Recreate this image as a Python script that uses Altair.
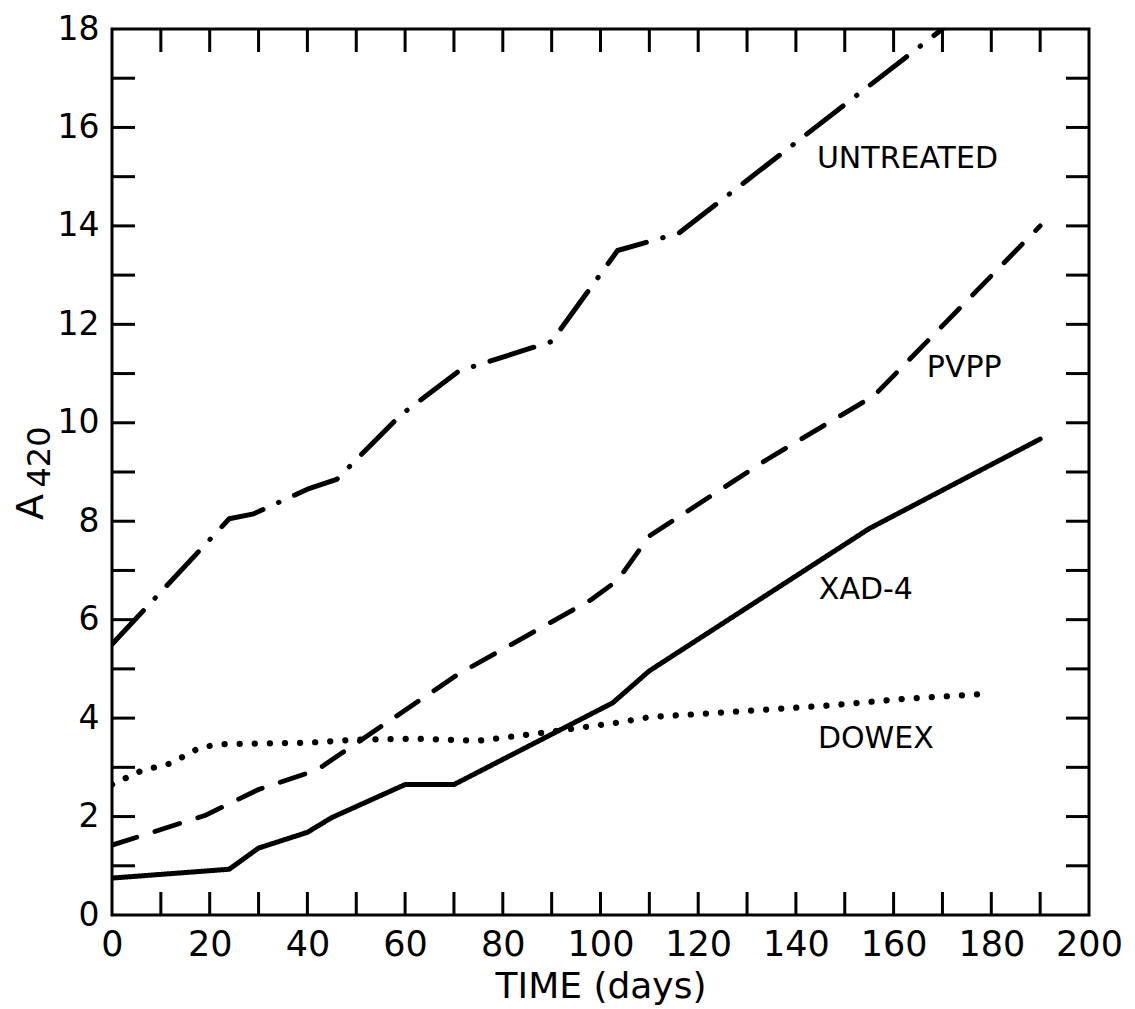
import altair as alt
import pandas as pd

# ---- data ----
untreated_x = [0, 24, 29, 40, 46, 59, 71, 90, 103.5, 116, 170]
untreated_y = [5.5, 8.05, 8.15, 8.65, 8.85, 10.15, 11.05, 11.65, 13.5, 13.85, 18.0]

pvpp_x = [0, 19, 30, 42, 71, 98, 103.5, 110, 134, 156, 190]
pvpp_y = [1.42, 2.02, 2.55, 2.95, 4.9, 6.4, 6.8, 7.7, 9.25, 10.55, 14.0]

xad_x = [0, 24, 30, 40, 45, 60, 70, 102.5, 110, 155, 190]
xad_y = [0.75, 0.93, 1.36, 1.68, 1.98, 2.65, 2.65, 4.31, 4.96, 7.85, 9.67]

dowex_x = [0, 6, 12, 18, 22, 40, 50, 62, 75, 88, 103, 110, 118, 146, 162, 180]
dowex_y = [2.65, 2.93, 3.08, 3.4, 3.47, 3.5, 3.56, 3.58, 3.54, 3.7, 3.9, 4.02, 4.07, 4.25, 4.39, 4.5]

label_text = ["UNTREATED", "PVPP", "XAD-4", "DOWEX"]
label_x = [144.3, 166.8, 144.7, 144.5]
label_y = [15.35, 11.12, 6.61, 3.58]

x_tick_labels = list(range(0, 201, 20))
y_tick_labels = list(range(0, 19, 2))
x_minor = list(range(10, 200, 10))
y_minor = list(range(1, 18, 1))

W, H = 977, 886
FONT = "DejaVu Sans"

xs = alt.Scale(domain=[0, 200], nice=False, zero=False)
ys = alt.Scale(domain=[0, 18], nice=False, zero=False)

def series_df(xv, yv):
    return pd.DataFrame({"t": xv, "a": yv})

def line(df, dash, width):
    return alt.Chart(df).mark_line(
        color="black", strokeWidth=width, strokeDash=dash, strokeCap="round",
        strokeJoin="round", clip=True
    ).encode(
        x=alt.X("t:Q", scale=xs),
        y=alt.Y("a:Q", scale=ys),
    )

# axes (labels only) on a base layer
base = alt.Chart(pd.DataFrame({"t": [0], "a": [0]})).mark_point(opacity=0).encode(
    x=alt.X("t:Q", scale=xs, axis=alt.Axis(
        values=x_tick_labels, ticks=False, domain=False, grid=False,
        labelFont=FONT, labelFontSize=35, labelColor="black", labelPadding=12,
        title="TIME (days)", titleFont=FONT, titleFontSize=36, titleFontWeight="normal",
        titleColor="black", titlePadding=7, labelFlush=False)),
    y=alt.Y("a:Q", scale=ys, axis=alt.Axis(
        values=y_tick_labels, ticks=False, domain=False, grid=False,
        labelFont=FONT, labelFontSize=33, labelColor="black", labelPadding=13,
        title="", labelFlush=False)),
)

TL = 23
xt = pd.DataFrame({"t": x_minor})
yt = pd.DataFrame({"a": y_minor})
tick_style = dict(color="black", strokeWidth=3)
bottom_ticks = alt.Chart(xt).mark_rule(**tick_style).encode(
    x=alt.X("t:Q", scale=xs), y=alt.value(H), y2=alt.value(H - TL))
top_ticks = alt.Chart(xt).mark_rule(**tick_style).encode(
    x=alt.X("t:Q", scale=xs), y=alt.value(0), y2=alt.value(TL))
left_ticks = alt.Chart(yt).mark_rule(**tick_style).encode(
    y=alt.Y("a:Q", scale=ys), x=alt.value(0), x2=alt.value(TL))
right_ticks = alt.Chart(yt).mark_rule(**tick_style).encode(
    y=alt.Y("a:Q", scale=ys), x=alt.value(W), x2=alt.value(W - TL))

l_untreated = line(series_df(untreated_x, untreated_y), [46, 17, 0.5, 17], 5)
l_pvpp = line(series_df(pvpp_x, pvpp_y), [26, 19], 4.8)
l_xad = line(series_df(xad_x, xad_y), [1, 0], 5)
l_dowex = line(series_df(dowex_x, dowex_y), [0.1, 15], 6.2)

labels = alt.Chart(pd.DataFrame({"t": label_x, "a": label_y, "txt": label_text})).mark_text(
    align="left", baseline="middle", font=FONT, fontSize=30, color="black"
).encode(x=alt.X("t:Q", scale=xs), y=alt.Y("a:Q", scale=ys), text="txt:N")

ytitle_a = alt.Chart(pd.DataFrame({"s": ["A"]})).mark_text(
    angle=270, align="center", baseline="middle", font=FONT, fontSize=38, color="black"
).encode(x=alt.value(-80), y=alt.value(478), text="s:N")
ytitle_sub = alt.Chart(pd.DataFrame({"s": ["420"]})).mark_text(
    angle=270, align="center", baseline="middle", font=FONT, fontSize=32, color="black"
).encode(x=alt.value(-72), y=alt.value(428), text="s:N")

chart = alt.layer(
    base, bottom_ticks, top_ticks, left_ticks, right_ticks,
    l_dowex, l_xad, l_pvpp, l_untreated, labels, ytitle_a, ytitle_sub
).properties(
    width=W, height=H,
    autosize=alt.AutoSizeParams(type="none"),
    padding={"left": 104, "top": 21, "right": 35, "bottom": 94},
    background="white",
).configure_view(stroke="black", strokeWidth=3)

chart.save("out.html", embed_options={"renderer": "svg", "actions": False})
